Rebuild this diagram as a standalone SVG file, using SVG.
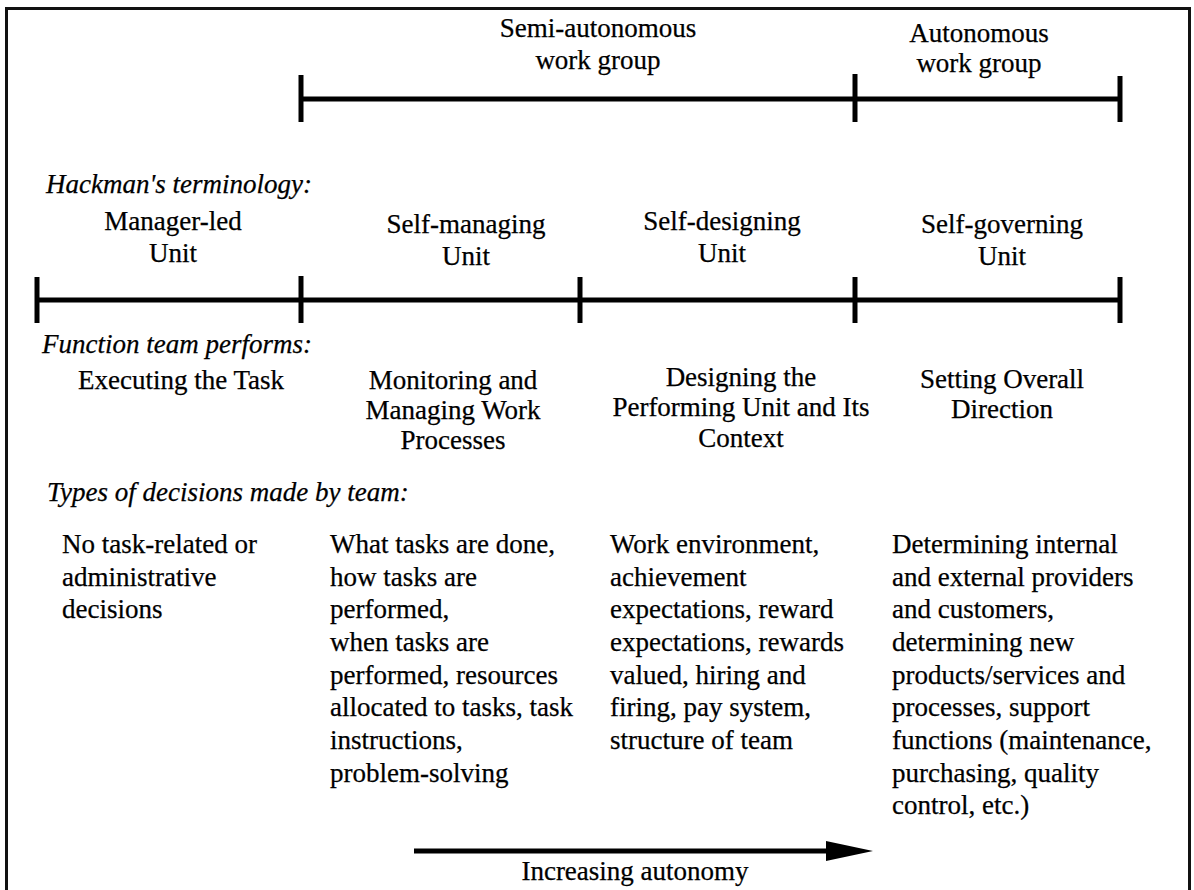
<svg xmlns="http://www.w3.org/2000/svg" width="1194" height="890" viewBox="0 0 1194 890">
  <style>
    text { font-family: "Liberation Serif", "Times New Roman", serif; font-size: 27px; fill: #000; stroke: #000; stroke-width: 0.25; }
    .c { text-anchor: middle; }
    .lbl { font-style: italic; }
    .axis { stroke: #000; stroke-width: 5; fill: none; }
    .tick { stroke: #000; stroke-width: 5; fill: none; }
  </style>
  <rect width="1194" height="890" fill="#fff"/>
  <!-- outer frame -->
  <rect x="6.5" y="8.5" width="1183" height="884" fill="none" stroke="#111" stroke-width="3"/>

  <!-- scales and arrow -->
  <g id="connectors">
    <!-- work-group scale -->
    <line class="axis" x1="301" y1="99" x2="1120" y2="99"/>
    <line class="tick" x1="301" y1="75" x2="301" y2="122"/>
    <line class="tick" x1="855" y1="74" x2="855" y2="122"/>
    <line class="tick" x1="1120" y1="76" x2="1120" y2="122"/>
    <!-- unit scale -->
    <line class="axis" x1="37" y1="300" x2="1120" y2="300"/>
    <line class="tick" x1="37" y1="277" x2="37" y2="323"/>
    <line class="tick" x1="301" y1="276" x2="301" y2="323"/>
    <line class="tick" x1="580" y1="277" x2="580" y2="323"/>
    <line class="tick" x1="855" y1="277" x2="855" y2="323"/>
    <line class="tick" x1="1120" y1="277" x2="1120" y2="323"/>
    <!-- autonomy arrow -->
    <line x1="414" y1="851" x2="828" y2="851" stroke="#000" stroke-width="5"/>
    <polygon points="826,841 873,851 826,861" fill="#000"/>
  </g>

  <g id="semi-autonomous">
    <text class="c" x="598" y="37">Semi-autonomous</text>
    <text class="c" x="598" y="69">work group</text>
  </g>
  <g id="autonomous">
    <text class="c" x="979" y="42">Autonomous</text>
    <text class="c" x="979" y="72">work group</text>
  </g>

  <g id="label-terminology">
    <text class="lbl" x="46" y="193">Hackman's terminology:</text>
  </g>
  <g id="manager-led">
    <text class="c" x="173" y="230">Manager-led</text>
    <text class="c" x="173" y="262">Unit</text>
  </g>
  <g id="self-managing">
    <text class="c" x="466" y="233">Self-managing</text>
    <text class="c" x="466" y="265">Unit</text>
  </g>
  <g id="self-designing">
    <text class="c" x="722" y="230">Self-designing</text>
    <text class="c" x="722" y="262">Unit</text>
  </g>
  <g id="self-governing">
    <text class="c" x="1002" y="233">Self-governing</text>
    <text class="c" x="1002" y="265">Unit</text>
  </g>

  <g id="label-function">
    <text class="lbl" x="42" y="353">Function team performs:</text>
  </g>
  <g id="executing">
    <text class="c" x="181" y="389">Executing the Task</text>
  </g>
  <g id="monitoring">
    <text class="c" x="453" y="389">Monitoring and</text>
    <text class="c" x="453" y="419">Managing Work</text>
    <text class="c" x="453" y="449">Processes</text>
  </g>
  <g id="designing">
    <text class="c" x="741" y="386">Designing the</text>
    <text class="c" x="741" y="416">Performing Unit and Its</text>
    <text class="c" x="741" y="447">Context</text>
  </g>
  <g id="setting">
    <text class="c" x="1002" y="388">Setting Overall</text>
    <text class="c" x="1002" y="418">Direction</text>
  </g>

  <g id="label-decisions">
    <text class="lbl" x="47" y="501">Types of decisions made by team:</text>
  </g>
  <g id="decisions-manager-led">
    <text x="62" y="553">No task-related or</text>
    <text x="62" y="586">administrative</text>
    <text x="62" y="618">decisions</text>
  </g>
  <g id="decisions-self-managing">
    <text x="330" y="553">What tasks are done,</text>
    <text x="330" y="586">how tasks are</text>
    <text x="330" y="618">performed,</text>
    <text x="330" y="651">when tasks are</text>
    <text x="330" y="684">performed, resources</text>
    <text x="330" y="716">allocated to tasks, task</text>
    <text x="330" y="749">instructions,</text>
    <text x="330" y="782">problem-solving</text>
  </g>
  <g id="decisions-self-designing">
    <text x="610" y="553">Work environment,</text>
    <text x="610" y="586">achievement</text>
    <text x="610" y="618">expectations, reward</text>
    <text x="610" y="651">expectations, rewards</text>
    <text x="610" y="684">valued, hiring and</text>
    <text x="610" y="716">firing, pay system,</text>
    <text x="610" y="749">structure of team</text>
  </g>
  <g id="decisions-self-governing">
    <text x="892" y="553">Determining internal</text>
    <text x="892" y="586">and external providers</text>
    <text x="892" y="618">and customers,</text>
    <text x="892" y="651">determining new</text>
    <text x="892" y="684">products/services and</text>
    <text x="892" y="716">processes, support</text>
    <text x="892" y="749">functions (maintenance,</text>
    <text x="892" y="782">purchasing, quality</text>
    <text x="892" y="814">control, etc.)</text>
  </g>

  <g id="increasing-autonomy">
    <text class="c" x="635" y="880">Increasing autonomy</text>
  </g>
</svg>
